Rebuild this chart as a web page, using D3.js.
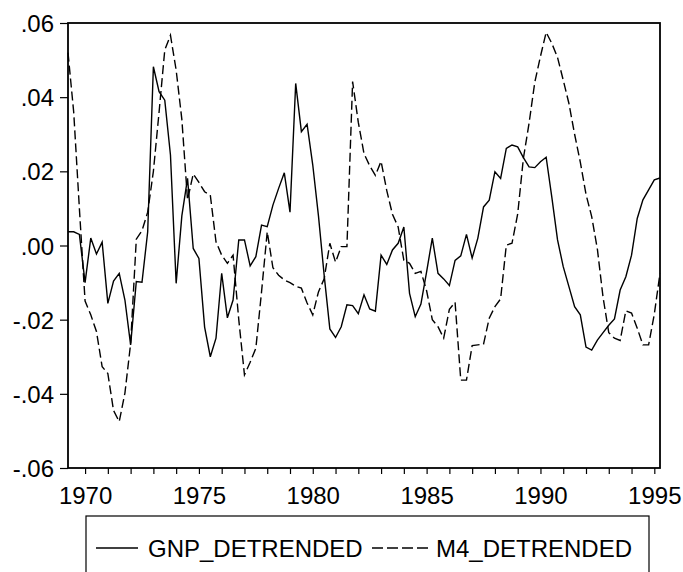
<!DOCTYPE html>
<html>
<head>
<meta charset="utf-8">
<script src="https://cdn.jsdelivr.net/npm/d3@7"></script>
<style>
  html, body { margin: 0; padding: 0; background: #fff; }
  svg { display: block; }
  text { font-family: "Liberation Sans", Arial, sans-serif; fill: #000; }
</style>
</head>
<body>
<svg id="chart" width="683" height="572"></svg>
<script>
// ---- data (quarterly, 1969Q2 .. 1995Q2) ----
const startYear = 1969.25;   // 1969Q2
const gnpDetrended = [
  0.0037, 0.0037, 0.0030, -0.0100, 0.0020, -0.0023, 0.0009, -0.0156, -0.0096, -0.0075,
  -0.0147, -0.0268, -0.0097, -0.0099, 0.0037, 0.0482, 0.0415, 0.0392, 0.0244, -0.0102,
  0.0080, 0.0181, -0.0008, -0.0035, -0.0220, -0.0300, -0.0250, -0.0075, -0.0195, -0.0147,
  0.0015, 0.0015, -0.0055, -0.0030, 0.0055, 0.0051, 0.0109, 0.0154, 0.0196, 0.0090,
  0.0437, 0.0307, 0.0327, 0.0217, 0.0080, -0.0080, -0.0225, -0.0248, -0.0219, -0.0160,
  -0.0162, -0.0184, -0.0133, -0.0171, -0.0177, -0.0026, -0.0051, -0.0012, 0.0006, 0.0050,
  -0.0129, -0.0192, -0.0158, -0.0071, 0.0020, -0.0075, -0.0090, -0.0108, -0.0040, -0.0028,
  0.0030, -0.0034, 0.0020, 0.0104, 0.0122, 0.0199, 0.0181, 0.0262, 0.0271, 0.0266,
  0.0237, 0.0212, 0.0210, 0.0226, 0.0238, 0.0130, 0.0015, -0.0057, -0.0111, -0.0165,
  -0.0187, -0.0274, -0.0282, -0.0255, -0.0235, -0.0215, -0.0198, -0.0120, -0.0084, -0.0026,
  0.0073, 0.0123, 0.0150, 0.0177, 0.0182
];
const m4Detrended = [
  0.0520, 0.0360, 0.0100, -0.0150, -0.0187, -0.0232, -0.0327, -0.0345, -0.0445, -0.0475,
  -0.0398, -0.0265, 0.0017, 0.0040, 0.0090, 0.0200, 0.0360, 0.0527, 0.0567, 0.0473,
  0.0340, 0.0123, 0.0193, 0.0170, 0.0145, 0.0136, 0.0010, -0.0026, -0.0048, -0.0026,
  -0.0200, -0.0349, -0.0315, -0.0277, -0.0125, 0.0037, -0.0060, -0.0080, -0.0093, -0.0100,
  -0.0110, -0.0115, -0.0155, -0.0187, -0.0125, -0.0090, 0.0006, -0.0045, -0.0003, -0.0003,
  0.0442, 0.0332, 0.0248, 0.0215, 0.0189, 0.0227, 0.0148, 0.0084, 0.0050, -0.0040,
  -0.0048, -0.0075, -0.0070, -0.0122, -0.0200, -0.0219, -0.0250, -0.0172, -0.0153, -0.0363,
  -0.0363, -0.0270, -0.0268, -0.0266, -0.0196, -0.0165, -0.0144, 0.0001, 0.0006, 0.0085,
  0.0235, 0.0330, 0.0440, 0.0510, 0.0575, 0.0545, 0.0507, 0.0446, 0.0383, 0.0300,
  0.0225, 0.0138, 0.0078, -0.0010, -0.0140, -0.0235, -0.0250, -0.0256, -0.0176, -0.0182,
  -0.0223, -0.0268, -0.0268, -0.0185, -0.0075
];
const seriesNames = ["GNP_DETRENDED", "M4_DETRENDED"];
const yTickValues = [0.06, 0.04, 0.02, 0.00, -0.02, -0.04, -0.06];
const yTickLabels = [".06", ".04", ".02", ".00", "-.02", "-.04", "-.06"];
const xMinorTicks = [1970,1971,1972,1973,1974,1975,1976,1977,1978,1979,1980,1981,1982,
                     1983,1984,1985,1986,1987,1988,1989,1990,1991,1992,1993,1994,1995];
const xLabelTicks = [1970, 1975, 1980, 1985, 1990, 1995];

// ---- layout ----
const plotL = 68, plotR = 660, plotT = 23, plotB = 468;
const svg = d3.select("#chart");

const dates = gnpDetrended.map((_, i) => startYear + i / 4);
const x = d3.scaleLinear().domain([startYear, dates[dates.length - 1]]).range([plotL, plotR]);
const y = d3.scaleLinear().domain([-0.06, 0.06]).range([plotB, plotT]);

// y axis
const yAxis = d3.axisLeft(y)
  .tickValues(yTickValues)
  .tickSize(8)
  .tickPadding(6)
  .tickFormat((d, i) => yTickLabels[i]);
const gy = svg.append("g").attr("transform", `translate(${plotL},0)`).call(yAxis);
gy.select(".domain").remove();
gy.selectAll("line").attr("stroke", "#000").attr("stroke-width", 1.2);
gy.selectAll("text").attr("font-size", 24).attr("font-family", "Liberation Sans, Arial, sans-serif")
  .attr("dy", "0.36em");

// x axis (year ticks, labels every 5 years)
const xAxis = d3.axisBottom(x)
  .tickValues(xMinorTicks)
  .tickSize(6)
  .tickPadding(13)
  .tickFormat(d => xLabelTicks.includes(d) ? String(d) : "");
const gx = svg.append("g").attr("transform", `translate(0,${plotB})`).call(xAxis);
gx.select(".domain").remove();
gx.selectAll("line").attr("stroke", "#000").attr("stroke-width", 1.2);
gx.selectAll("text").attr("font-size", 24).attr("font-family", "Liberation Sans, Arial, sans-serif");

// lines
const line = d3.line().x((d, i) => x(dates[i])).y(d => y(d));
svg.append("path").datum(gnpDetrended)
  .attr("d", line).attr("fill", "none").attr("stroke", "#000").attr("stroke-width", 1.4)
  .attr("stroke-linejoin", "miter");
svg.append("path").datum(m4Detrended)
  .attr("d", line).attr("fill", "none").attr("stroke", "#000").attr("stroke-width", 1.4)
  .attr("stroke-dasharray", "9,4");

// frame
svg.append("rect").attr("x", plotL).attr("y", plotT)
  .attr("width", plotR - plotL).attr("height", plotB - plotT)
  .attr("fill", "none").attr("stroke", "#000").attr("stroke-width", 1.8);

// legend
const lg = svg.append("g");
lg.append("rect").attr("x", 86).attr("y", 516).attr("width", 563).attr("height", 70)
  .attr("fill", "none").attr("stroke", "#000").attr("stroke-width", 1.2);
const legendY = 548;
lg.append("line").attr("x1", 96).attr("x2", 138).attr("y1", legendY).attr("y2", legendY)
  .attr("stroke", "#000").attr("stroke-width", 1.4);
lg.append("text").attr("x", 148).attr("y", 557).attr("font-size", 24).text(seriesNames[0]);
lg.append("line").attr("x1", 372).attr("x2", 428).attr("y1", legendY).attr("y2", legendY)
  .attr("stroke", "#000").attr("stroke-width", 1.4).attr("stroke-dasharray", "11,4");
lg.append("text").attr("x", 436).attr("y", 557).attr("font-size", 24).text(seriesNames[1]);
</script>
</body>
</html>
